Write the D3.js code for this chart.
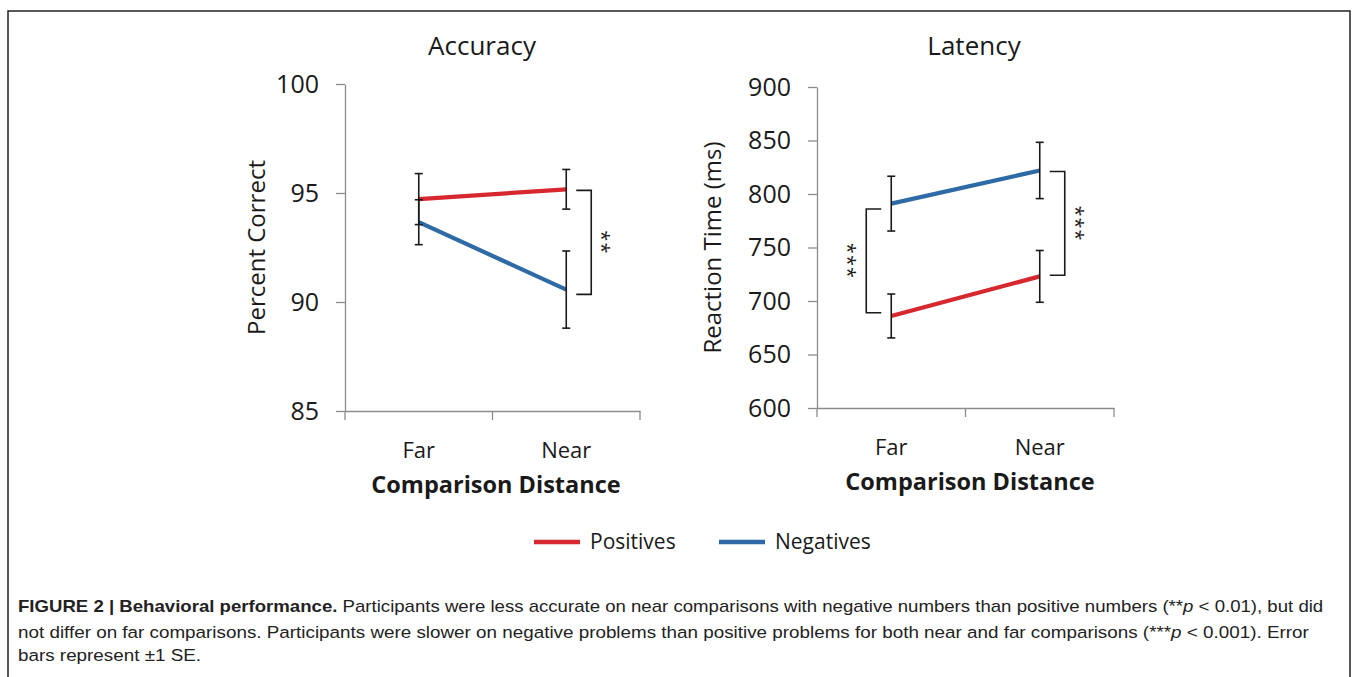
<!DOCTYPE html>
<html>
<head>
<meta charset="utf-8">
<script src="https://cdn.jsdelivr.net/npm/d3@7"></script>
<style>
  body { margin: 0; background: #fff; }
  text { font-family: 'Open Sans', sans-serif; fill: #1a1a1a; }
  .axis path, .axis line { stroke: #8c8c8c; stroke-width: 1.3px; }
  .caption text { font-family: 'Liberation Sans', Arial, sans-serif; }
</style>
</head>
<body>
<svg width="1354" height="677"></svg>
<script>
// values
const categories = ['Far', 'Near']
const seriesNames = ['Positives', 'Negatives']
const seriesColors = ['#d7282f', '#2e6aa5']

const accuracyPositives = [94.72, 95.17]
const accuracyPositivesSE = [1.17, 0.91]
const accuracyNegatives = [93.66, 90.57]
const accuracyNegativesSE = [1.03, 1.77]
const accuracyTicks = [85, 90, 95, 100]

const latencyPositives = [686, 723]
const latencyPositivesSE = [20.5, 24.2]
const latencyNegatives = [791, 822]
const latencyNegativesSE = [25.6, 26.3]
const latencyTicks = [600, 650, 700, 750, 800, 850, 900]

// significance brackets: category, low value, high value, side, label
const accuracyBrackets = [['Near', 90.35, 95.12, 1, '**']]
const latencyBrackets = [['Far', 689, 786, -1, '***'], ['Near', 724, 821, 1, '***']]

const svg = d3.select('svg')

// figure frame
svg.append('rect')
  .attr('x', 8).attr('y', 11)
  .attr('width', 1342).attr('height', 700)
  .attr('fill', 'none')
  .attr('stroke', '#222')
  .attr('stroke-width', 1.5)

drawPanel({
  title: 'Accuracy', yLabel: 'Percent Correct',
  left: 345, right: 640, top: 84, bottom: 411,
  domain: [85, 100], ticks: accuracyTicks,
  series: [[accuracyPositives, accuracyPositivesSE], [accuracyNegatives, accuracyNegativesSE]],
  brackets: accuracyBrackets,
  titleX: 482, yLabelX: 265, xTitleX: 496
})

drawPanel({
  title: 'Latency', yLabel: 'Reaction Time (ms)',
  left: 817, right: 1114, top: 87, bottom: 408,
  domain: [600, 900], ticks: latencyTicks,
  series: [[latencyPositives, latencyPositivesSE], [latencyNegatives, latencyNegativesSE]],
  brackets: latencyBrackets,
  titleX: 974, yLabelX: 721, xTitleX: 970
})

drawLegend()
drawCaption()

function drawPanel(c) {
  const x = d3.scaleBand().domain(categories).range([c.left, c.right])
  const cx = d => x(d) + x.bandwidth() / 2
  const y = d3.scaleLinear().domain(c.domain).range([c.bottom, c.top])
  const g = svg.append('g')

  // y axis
  const yAxis = g.append('g')
    .attr('class', 'axis')
    .attr('transform', `translate(${c.left},0)`)
    .call(d3.axisLeft(y).tickValues(c.ticks).tickSize(9).tickPadding(17).tickSizeOuter(0))
  yAxis.selectAll('text').style('font-size', '25px').style('fill', '#1a1a1a')
    .style('font-family', "'Open Sans', sans-serif")

  // x axis, ticks sit between the categories
  const xAxis = g.append('g')
    .attr('class', 'axis')
    .attr('transform', `translate(0,${c.bottom})`)
    .call(d3.axisBottom(x).tickSize(0).tickPadding(31).tickSizeOuter(0))
  xAxis.selectAll('text').style('font-size', '22px').style('fill', '#1a1a1a')
    .style('font-family', "'Open Sans', sans-serif")
  const edges = categories.map(d => x(d)).concat([c.right])
  xAxis.selectAll('.edge')
    .data(edges)
    .enter()
    .append('line')
    .attr('x1', d => d).attr('x2', d => d)
    .attr('y1', 0).attr('y2', 9)

  // titles
  g.append('text')
    .attr('x', c.titleX).attr('y', 55)
    .attr('text-anchor', 'middle')
    .style('font-size', '26px')
    .text(c.title)
  g.append('text')
    .attr('transform', `translate(${c.yLabelX},${(c.top + c.bottom) / 2}) rotate(-90)`)
    .attr('text-anchor', 'middle')
    .style('font-size', '24px')
    .text(c.yLabel)
  g.append('text')
    .attr('x', c.xTitleX).attr('y', c.bottom + 82)
    .attr('text-anchor', 'middle')
    .style('font-size', '23.5px')
    .style('font-weight', 'bold')
    .text('Comparison Distance')

  // series lines
  const line = d3.line().x((d, i) => cx(categories[i])).y(d => y(d))
  c.series.forEach((s, k) => {
    g.append('path')
      .attr('d', line(s[0]))
      .attr('fill', 'none')
      .attr('stroke', seriesColors[k])
      .attr('stroke-width', 4.2)
  })

  // error bars on top
  c.series.forEach(s => {
    const bars = g.selectAll(null)
      .data(s[0].map((v, i) => ({ cat: categories[i], v: v, se: s[1][i] })))
      .enter()
      .append('g')
      .attr('stroke', '#1a1a1a')
      .attr('stroke-width', 1.6)
    bars.append('line')
      .attr('x1', d => cx(d.cat)).attr('x2', d => cx(d.cat))
      .attr('y1', d => y(d.v - d.se)).attr('y2', d => y(d.v + d.se))
    bars.append('line')
      .attr('x1', d => cx(d.cat) - 4).attr('x2', d => cx(d.cat) + 4)
      .attr('y1', d => y(d.v + d.se)).attr('y2', d => y(d.v + d.se))
    bars.append('line')
      .attr('x1', d => cx(d.cat) - 4).attr('x2', d => cx(d.cat) + 4)
      .attr('y1', d => y(d.v - d.se)).attr('y2', d => y(d.v - d.se))
  })

  // significance brackets
  c.brackets.forEach(b => {
    const px = cx(b[0])
    const inner = px + b[3] * 10
    const outer = px + b[3] * 25
    g.append('path')
      .attr('d', `M${inner},${y(b[2])}H${outer}V${y(b[1])}H${inner}`)
      .attr('fill', 'none')
      .attr('stroke', '#1a1a1a')
      .attr('stroke-width', 1.6)
    const lx = outer + b[3] * 5
    g.append('text')
      .attr('transform', `translate(${lx},${(y(b[1]) + y(b[2])) / 2}) rotate(90)`)
      .attr('text-anchor', 'middle')
      .attr('dy', b[3] > 0 ? '0.05em' : '1.0em')
      .style('font-size', '20px')
      .style('letter-spacing', '1px')
      .style('fill', '#1a1a1a')
      .text(b[4])
  })
}

function drawLegend() {
  const lx = [534, 719]
  const legend = svg.append('g')
  seriesNames.forEach((name, i) => {
    legend.append('line')
      .attr('x1', lx[i]).attr('x2', lx[i] + 46)
      .attr('y1', 542).attr('y2', 542)
      .attr('stroke', seriesColors[i])
      .attr('stroke-width', 4.5)
    legend.append('text')
      .attr('x', lx[i] + 56).attr('y', 549)
      .style('font-size', '21px')
      .text(name)
  })
}

function drawCaption() {
  const cap = svg.append('g').attr('class', 'caption')
  const lines = [
    { y: 612, width: 1306, parts: [
      ['FIGURE 2 | Behavioral performance.', 'bold', 'normal'],
      [' Participants were less accurate on near comparisons with negative numbers than positive numbers (**', 'normal', 'normal'],
      ['p', 'normal', 'italic'],
      [' < 0.01), but did', 'normal', 'normal']] },
    { y: 638, width: 1291, parts: [
      ['not differ on far comparisons. Participants were slower on negative problems than positive problems for both near and far comparisons (***', 'normal', 'normal'],
      ['p', 'normal', 'italic'],
      [' < 0.001). Error', 'normal', 'normal']] },
    { y: 661, width: null, parts: [['bars represent \u00b11 SE.', 'normal', 'normal']] }
  ]
  let k = 1
  lines.forEach(l => {
    const t = cap.append('text')
      .attr('x', 0).attr('y', 0)
      .style('font-size', '17px')
      .style('fill', '#222')
    l.parts.forEach(p => {
      t.append('tspan')
        .style('font-weight', p[1])
        .style('font-style', p[2])
        .text(p[0])
    })
    const w = t.node().getComputedTextLength()
    if (l.width) k = l.width / w
    t.attr('transform', `translate(18,${l.y}) scale(${k},1)`)
  })
}
</script>
</body>
</html>
